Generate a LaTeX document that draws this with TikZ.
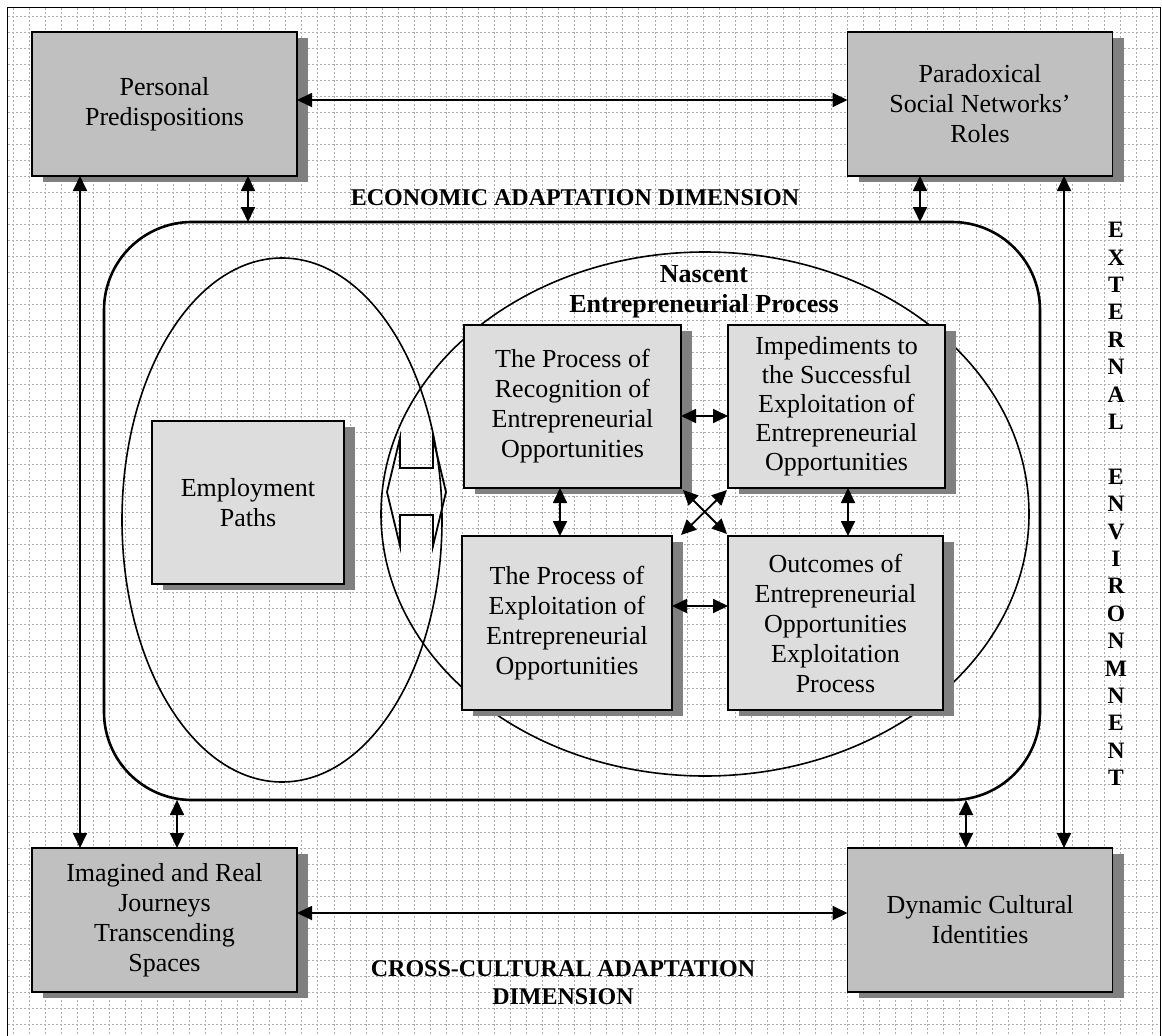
\documentclass[tikz,border=0pt]{standalone}
\usepackage{fontspec}
\setmainfont{Liberation Serif}
\usetikzlibrary{arrows.meta,shadows,shapes.geometric}

\definecolor{cornerfill}{HTML}{C0C0C0}
\definecolor{innerfill}{HTML}{DDDDDD}
\definecolor{shadowgray}{HTML}{808080}
\definecolor{griddot}{HTML}{ADADAD}

\begin{document}
\begin{tikzpicture}[x=1pt,y=-1pt,
  boxbase/.style={draw=black, line width=1.8pt, align=center, inner sep=0pt, outer sep=0pt,
    font=\fontsize{26}{30}\selectfont,
    drop shadow={shadow xshift=11pt, shadow yshift=-6pt, fill=shadowgray, opacity=1}},
  cornerbox/.style={boxbase, fill=cornerfill, minimum width=265pt, minimum height=144pt},
  innerbox/.style={boxbase, fill=innerfill},
  dimlabel/.style={font=\fontsize{24}{28}\selectfont\bfseries, align=center, inner sep=0pt},
  dbl/.style={line width=1.8pt, {Triangle[length=15pt,width=14pt]}-{Triangle[length=15pt,width=14pt]}},
  gridline/.style={draw=griddot, line width=1pt, dash pattern=on 1.6pt off 2.4pt},
  region/.style={draw=black, inner sep=0pt, outer sep=0pt},
]
\useasboundingbox (0,0) rectangle (1162,1036);
\clip (0,0) rectangle (1162,1036);

% dotted background grid
\foreach \k in {1,...,64} \draw[gridline] (8,16*\k) -- (1160,16*\k);
\foreach \k in {0,...,71} \draw[gridline] (13+16.05*\k,8) -- (13+16.05*\k,1034);

% outer frame
\draw[line width=1.6pt] (7.5,7.5) rectangle (1160.5,1040);

% economic adaptation region and the two overlapping areas
\node[region, line width=2.6pt, rounded corners=88pt, minimum width=936pt, minimum height=578pt] (econ) at (572,511) {};
\node[region, ellipse, line width=1.6pt, minimum width=320pt, minimum height=524pt] (empzone) at (282,520) {};
\node[region, ellipse, line width=1.6pt, minimum width=648pt, minimum height=524pt] (nascentzone) at (705,514) {};

% corner boxes
\node[cornerbox] (pp) at (164.5,104) {Personal\\Predispositions};
\node[cornerbox] (sn) at (980,104) {Paradoxical\\Social Networks'\\Roles};
\node[cornerbox] (ij) at (164.5,920) {Imagined and Real\\Journeys\\Transcending\\Spaces};
\node[cornerbox] (dc) at (980,920) {Dynamic Cultural\\Identities};

% inner boxes
\node[innerbox, minimum width=192pt, minimum height=163pt] (ep) at (248,502.5) {Employment\\Paths};
\node[innerbox, minimum width=217pt, minimum height=163pt] (rec) at (572.5,406.5) {The Process of\\Recognition of\\Entrepreneurial\\Opportunities};
\node[innerbox, minimum width=217pt, minimum height=163pt, font=\fontsize{26}{29}\selectfont] (imp) at (836.5,406.5) {Impediments to\\the Successful\\Exploitation of\\Entrepreneurial\\Opportunities};
\node[innerbox, minimum width=210pt, minimum height=174pt] (exp) at (567,623) {The Process of\\Exploitation of\\Entrepreneurial\\Opportunities};
\node[innerbox, minimum width=215pt, minimum height=174pt] (out) at (835.5,623) {Outcomes of\\Entrepreneurial\\Opportunities\\Exploitation\\Process};

% hollow two-way arrow between the employment and nascent areas
\draw[line width=1.8pt] (387,492) -- (400,438) -- (400,468) -- (433,468) -- (433,438) -- (446,492)
  -- (433,546) -- (433,515) -- (400,515) -- (400,546) -- cycle;

% links between the corner boxes
\draw[dbl] ([yshift=4pt]pp.east) -- ([yshift=4pt]sn.west);
\draw[dbl] ([yshift=7pt]ij.east) -- ([yshift=7pt]dc.west);
\draw[dbl] ([xshift=-84.5pt]pp.south) -- ([xshift=-84.5pt]ij.north);
\draw[dbl] ([xshift=84pt]sn.south) -- ([xshift=84pt]dc.north);

% links from the corner boxes to the region
\coordinate (ppd) at ([xshift=83.5pt]pp.south);
\coordinate (snd) at ([xshift=-60pt]sn.south);
\coordinate (iju) at ([xshift=12.5pt]ij.north);
\coordinate (dcu) at ([xshift=-14pt]dc.north);
\draw[dbl] (ppd) -- (ppd |- econ.north);
\draw[dbl] (snd) -- (snd |- econ.north);
\draw[dbl] (iju) -- (iju |- econ.south);
\draw[dbl] (dcu) -- (dcu |- econ.south);

% links inside the nascent process
\draw[dbl] ([yshift=-9.5pt]rec.east) -- ([yshift=-9.5pt]imp.west);
\draw[dbl] ([yshift=17pt]exp.east) -- ([yshift=17pt]out.west);
\coordinate (recd) at ([xshift=-12.5pt]rec.south);
\coordinate (impd) at ([xshift=11.5pt]imp.south);
\draw[dbl] (recd) -- (recd |- exp.north);
\draw[dbl] (impd) -- (impd |- out.north);
\draw[dbl] ([shift={(2pt,-2pt)}]rec.south east) -- ([shift={(-1pt,2pt)}]out.north west);
\draw[dbl] ([shift={(-1pt,-2pt)}]imp.south west) -- ([shift={(9pt,1pt)}]exp.north east);

% dimension labels
\node[dimlabel] (econlbl) at (575,198) {ECONOMIC ADAPTATION DIMENSION};
\node[dimlabel] (crosslbl) at (563,983) {CROSS-CULTURAL ADAPTATION\\DIMENSION};
\node[dimlabel, font=\fontsize{26}{30}\selectfont\bfseries] (nascentlbl) at (704,292) {Nascent\\Entrepreneurial Process};
\node[dimlabel, font=\fontsize{23.5}{27.4}\selectfont\bfseries] (extlbl) at (1116,504)
  {E\\X\\T\\E\\R\\N\\A\\L\\\mbox{}\\E\\N\\V\\I\\R\\O\\N\\M\\N\\E\\N\\T};
\end{tikzpicture}
\end{document}
